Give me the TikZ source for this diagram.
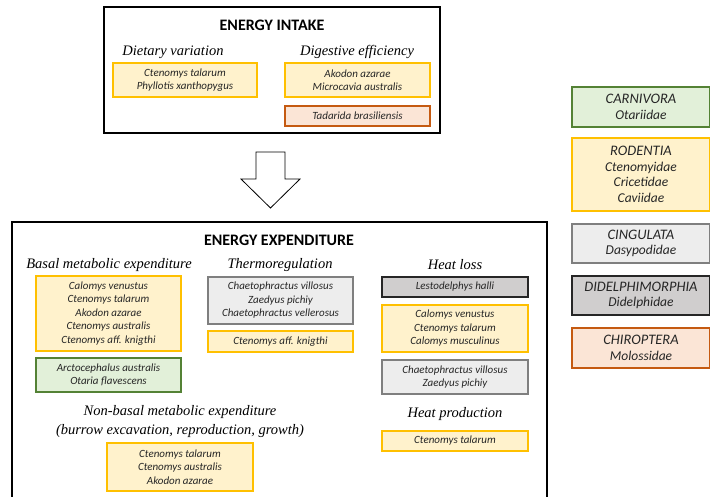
\documentclass[tikz,border=0pt]{standalone}
\usepackage{fontspec}
\setmainfont{Carlito}
\newfontfamily\tnr{Liberation Serif}

\definecolor{rodfill}{HTML}{FFF2CC}
\definecolor{rodline}{HTML}{FFC000}
\definecolor{carfill}{HTML}{E2F0D9}
\definecolor{carline}{HTML}{548235}
\definecolor{cinfill}{HTML}{EDEDED}
\definecolor{cinline}{HTML}{7F7F7F}
\definecolor{didfill}{HTML}{D0CECE}
\definecolor{didline}{HTML}{262626}
\definecolor{chifill}{HTML}{FBE5D6}
\definecolor{chiline}{HTML}{C55A11}

\tikzset{
    spbox/.style = {draw, line width=1.6pt, inner sep=0pt, align=center, text=black!85,
        font=\itshape\fontsize{11}{13.5}\selectfont},
    rod/.style = {spbox, draw=rodline, fill=rodfill},
    car/.style = {spbox, draw=carline, fill=carfill},
    cin/.style = {spbox, draw=cinline, fill=cinfill},
    did/.style = {spbox, draw=didline, fill=didfill},
    chi/.style = {spbox, draw=chiline, fill=chifill},
    legend/.style = {minimum width=138pt, font=\itshape\fontsize{13.5}{15.5}\selectfont},
    heading/.style = {align=center, font=\tnr\itshape\fontsize{14.5}{19}\selectfont},
    title/.style = {font=\bfseries\fontsize{16}{18}\selectfont},
    panel/.style = {line width=1.6pt}
}
\newcommand{\ordname}[1]{{\fontsize{14.5}{15.5}\selectfont #1}}

\begin{document}
\begin{tikzpicture}[x=1pt, y=-1pt]
    \clip (0,0) rectangle (710,496);

    \draw[panel] (104,7) rectangle (440,133);

    \node[title] (intake) at (272,25) {ENERGY INTAKE};
    \node[heading] (dietary) at (173,52) {Dietary variation};
    \node[heading] (digestive) at (357,52) {Digestive efficiency};

    \node[rod, minimum width=144pt, minimum height=34pt] (dietrod) at (185,80) {Ctenomys talarum\\Phyllotis xanthopygus};
    \node[rod, minimum width=145pt, minimum height=34pt] (digrod) at (357.5,80) {Akodon azarae\\Microcavia australis};
    \node[chi, minimum width=145pt, minimum height=20pt] (digchi) at (357.5,116) {Tadarida brasiliensis};

    \draw[fill=white, line width=0.8pt] (256,152) -- (285,152) -- (285,179) -- (300,179) -- (270.5,208) -- (241,179) -- (256,179) -- cycle;

    \draw[panel] (12,510) -- (12,222) -- (547,222) -- (547,510);

    \node[title] (expenditure) at (279,240) {ENERGY EXPENDITURE};
    \node[heading] (basal) at (109,265) {Basal metabolic expenditure};
    \node[heading] (thermo) at (280,265) {Thermoregulation};
    \node[heading] (heatloss) at (455,265) {Heat loss};

    \node[rod, minimum width=145pt, minimum height=75pt] (basalrod) at (108.5,313.5) {Calomys venustus\\Ctenomys talarum\\Akodon azarae\\Ctenomys australis\\Ctenomys aff. knigthi};
    \node[car, minimum width=145pt, minimum height=34pt] (basalcar) at (108.5,375) {Arctocephalus australis\\Otaria flavescens};

    \node[cin, minimum width=145pt, minimum height=47pt] (thermocin) at (280.5,300.5) {Chaetophractus villosus\\Zaedyus pichiy\\Chaetophractus vellerosus};
    \node[rod, minimum width=145pt, minimum height=21pt] (thermorod) at (280.5,341.5) {Ctenomys aff. knigthi};

    \node[did, minimum width=146pt, minimum height=20pt] (lossdid) at (455,287) {Lestodelphys halli};
    \node[rod, minimum width=146pt, minimum height=47pt] (lossrod) at (455,328.5) {Calomys venustus\\Ctenomys talarum\\Calomys musculinus};
    \node[cin, minimum width=146pt, minimum height=34pt] (losscin) at (455,377) {Chaetophractus villosus\\Zaedyus pichiy};

    \node[heading] (heatprod) at (455,414) {Heat production};
    \node[rod, minimum width=146pt, minimum height=20pt] (prodrod) at (455,441) {Ctenomys talarum};

    \node[heading] (nonbasal) at (180,422) {Non-basal metabolic expenditure\\(burrow excavation, reproduction, growth)};
    \node[rod, minimum width=146pt, minimum height=48pt] (nonbasalrod) at (180,467) {Ctenomys talarum\\Ctenomys australis\\Akodon azarae};

    \node[car, legend, minimum height=40pt] (carnivora) at (641,107) {\ordname{CARNIVORA}\\Otariidae};
    \node[rod, legend, minimum height=73pt] (rodentia) at (641,174.5) {\ordname{RODENTIA}\\Ctenomyidae\\Cricetidae\\Caviidae};
    \node[cin, legend, minimum height=39pt] (cingulata) at (641,243.5) {\ordname{CINGULATA}\\Dasypodidae};
    \node[did, legend, minimum height=39pt] (didelphimorphia) at (641,295.5) {\ordname{DIDELPHIMORPHIA}\\Didelphidae};
    \node[chi, legend, minimum height=40pt] (chiroptera) at (641,348) {\ordname{CHIROPTERA}\\Molossidae};
\end{tikzpicture}
\end{document}
